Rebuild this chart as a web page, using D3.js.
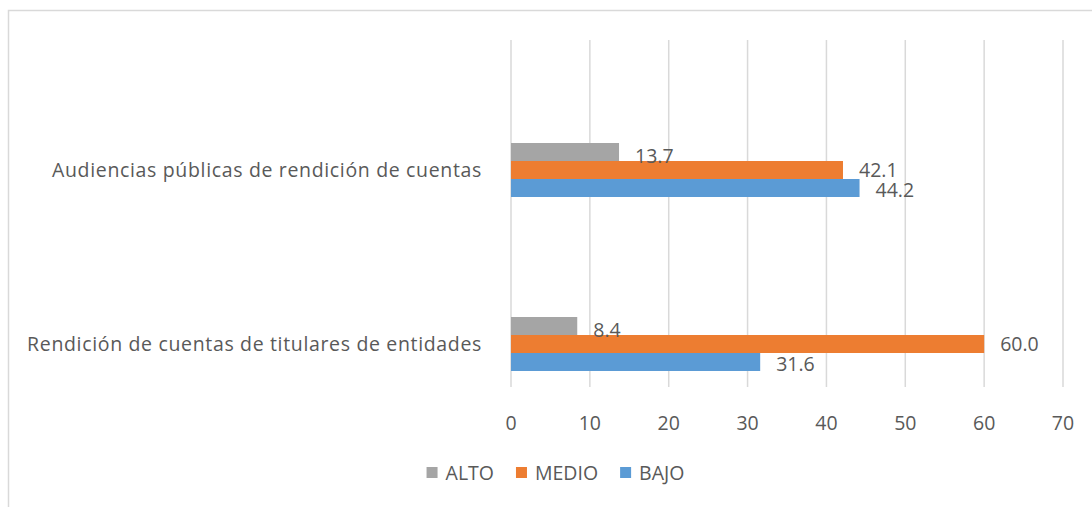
<!DOCTYPE html>
<html lang="es">
  <head>
    <meta charset="UTF-8" />
    <title>Rendición de cuentas</title>
    <style>
      body { margin: 0; background: #fff; }
      #viz text { font-family: "Open Sans", sans-serif; fill: #595959; }
    </style>
  </head>
  <body>
    <div id="viz"></div>
    <script src="https://cdnjs.cloudflare.com/ajax/libs/d3/7.8.5/d3.min.js"></script>
    <script>
      // data
      const categories = [
        "Audiencias públicas de rendición de cuentas",
        "Rendición de cuentas de titulares de entidades"
      ];
      const seriesNames = ["ALTO", "MEDIO", "BAJO"];
      const alto = [13.7, 8.4];
      const medio = [42.1, 60.0];
      const bajo = [44.2, 31.6];
      const xTicks = [0, 10, 20, 30, 40, 50, 60, 70];

      const colors = { ALTO: "#a5a5a5", MEDIO: "#ed7d31", BAJO: "#5b9bd5" };
      const values = { ALTO: alto, MEDIO: medio, BAJO: bajo };

      const width = 1092, height = 507;
      const plotLeft = 511, plotRight = 1063, plotTop = 40, plotBottom = 387;

      let svg = d3.select("#viz")
        .append("svg")
        .attr("width", width)
        .attr("height", height);

      // chart frame
      svg.append("rect")
        .attr("x", 8.5)
        .attr("y", 10.5)
        .attr("width", width + 20)
        .attr("height", height + 20)
        .attr("fill", "none")
        .attr("stroke", "#d9d9d9")
        .attr("stroke-width", 1.5);

      let x = d3.scaleLinear()
        .domain([0, 70])
        .range([plotLeft, plotRight]);

      let y = d3.scaleBand()
        .domain(categories)
        .range([83, 431]);

      let ySub = d3.scaleBand()
        .domain(seriesNames)
        .range([0, 54]);

      // pick a font size so the first category label is as wide as in the original
      let probe = svg.append("text").style("font-size", "20px").text(categories[0]);
      let fs = 20 * 430 / probe.node().getComputedTextLength();
      probe.remove();
      fs = Math.min(fs, 19.5);

      // gridlines
      svg.append("g")
        .selectAll("line")
        .data(xTicks)
        .join("line")
        .attr("x1", d => x(d))
        .attr("x2", d => x(d))
        .attr("y1", plotTop)
        .attr("y2", plotBottom)
        .attr("stroke", "#d9d9d9")
        .attr("stroke-width", 1.5);

      // tick labels
      svg.append("g")
        .selectAll("text")
        .data(xTicks)
        .join("text")
        .attr("x", d => x(d))
        .attr("y", 423)
        .attr("dy", "0.35em")
        .attr("text-anchor", "middle")
        .style("font-size", fs + "px")
        .text(d => d);

      // category labels
      let catLabels = svg.append("g")
        .selectAll("text")
        .data(categories)
        .join("text")
        .attr("x", 482)
        .attr("y", d => y(d) + y.bandwidth() / 2)
        .attr("dy", "0.35em")
        .attr("text-anchor", "end")
        .style("font-size", fs + "px")
        .text(d => d);

      let w0 = catLabels.nodes()[0].getComputedTextLength();
      let ls = Math.max(0, (430 - w0) / categories[0].length);
      catLabels.style("letter-spacing", ls + "px");

      // bars
      let rows = [];
      categories.forEach((c, i) => {
        seriesNames.forEach(s => rows.push({ cat: c, series: s, value: values[s][i] }));
      });

      let groupTop = c => y(c) + y.bandwidth() / 2 - 27;
      const labelShift = { ALTO: 4, MEDIO: 0, BAJO: 2 };

      svg.append("g")
        .selectAll("rect")
        .data(rows)
        .join("rect")
        .attr("x", x(0))
        .attr("y", d => groupTop(d.cat) + ySub(d.series))
        .attr("width", d => x(d.value) - x(0))
        .attr("height", ySub.bandwidth())
        .attr("fill", d => colors[d.series]);

      svg.append("g")
        .selectAll("text")
        .data(rows)
        .join("text")
        .attr("x", d => x(d.value) + 16)
        .attr("y", d => groupTop(d.cat) + ySub(d.series) + ySub.bandwidth() / 2 + labelShift[d.series])
        .attr("dy", "0.35em")
        .style("font-size", fs + "px")
        .text(d => d.value.toFixed(1));

      // legend, laid out from measured text widths and centred
      let legend = svg.append("g")
        .attr("transform", "translate(0, 473)");

      let items = legend.selectAll("g")
        .data(seriesNames)
        .join("g");

      items.append("rect")
        .attr("x", 0)
        .attr("y", -6)
        .attr("width", 11)
        .attr("height", 11)
        .attr("fill", d => colors[d]);

      items.append("text")
        .attr("x", 19)
        .attr("y", 0)
        .attr("dy", "0.35em")
        .style("font-size", fs + "px")
        .text(d => d);

      let offs = [], cur = 0;
      items.each(function () {
        offs.push(cur);
        cur += 19 + d3.select(this).select("text").node().getComputedTextLength() + 22;
      });
      let total = cur - 22;
      let start = 555.5 - total / 2;
      items.attr("transform", (d, i) => `translate(${start + offs[i]}, 0)`);
    </script>
  </body>
</html>
